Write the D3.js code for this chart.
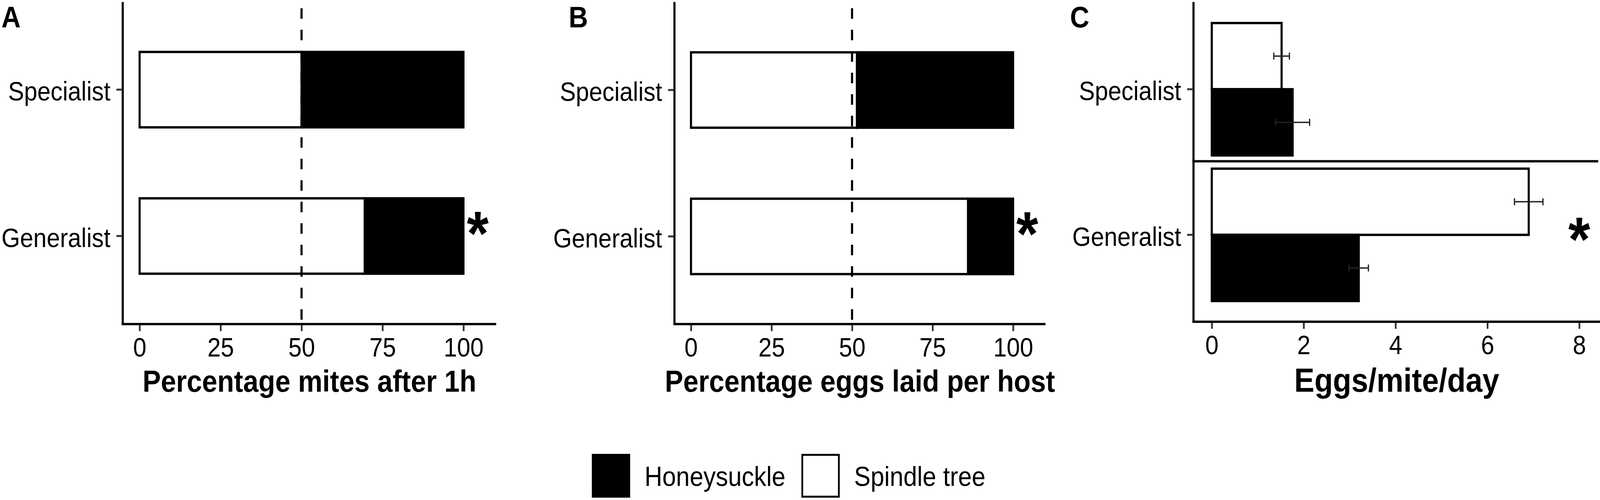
<!DOCTYPE html>
<html>
<head>
<meta charset="utf-8">
<script src="https://cdn.jsdelivr.net/npm/d3@7"></script>
<style>
  html, body { margin: 0; padding: 0; background: #fff; overflow: hidden; }
  #fig { display: block; width: 100vw; height: 100vh; }
  text { font-family: 'Liberation Sans', Arial, Helvetica, sans-serif; }
</style>
</head>
<body>
<svg id="fig" viewBox="0 0 4550 1279" preserveAspectRatio="none"></svg>
<script>
// data
var categories = ['Specialist', 'Generalist'];
var hosts = ['Spindle tree', 'Honeysuckle'];
var legendHosts = ['Honeysuckle', 'Spindle tree'];
var hostFill = {'Honeysuckle': '#000', 'Spindle tree': '#fff'};

// A: percentage mites after 1h
var mitesSpindle = [50, 69.5];
var mitesHoney = [50, 30.5];
// B: percentage eggs laid per host
var eggsSpindle = [51.5, 86];
var eggsHoney = [48.5, 14];
// C: eggs/mite/day (mean, se)
var dailySpindle = [1.52, 6.90];
var dailySpindleSE = [0.17, 0.31];
var dailyHoney = [1.76, 3.20];
var dailyHoneySE = [0.37, 0.21];

var pctTicks = [0, 25, 50, 75, 100];
var dayTicks = [0, 2, 4, 6, 8];
var significant = ['Generalist'];

var svg = d3.select('#fig');
var TICK_FS = 68, TITLE_FS = 78;

function styleAxis(g) {
  g.select('.domain').remove();
  g.selectAll('.tick line').attr('stroke', '#333').attr('stroke-width', 5);
  g.selectAll('.tick text').attr('fill', '#000')
    .style('font-size', TICK_FS + 'px')
    .style('font-family', "'Liberation Sans', Arial, sans-serif");
}

function drawFrame(p) {
  var g = svg.append('g');
  // y axis + x axis lines
  g.append('line').attr('x1', p.axisX).attr('x2', p.axisX)
    .attr('y1', 5).attr('y2', p.axisY + 3)
    .attr('stroke', '#000').attr('stroke-width', 6);
  g.append('line').attr('x1', p.axisX - 3).attr('x2', p.right)
    .attr('y1', p.axisY).attr('y2', p.axisY)
    .attr('stroke', '#000').attr('stroke-width', 6);

  var xa = g.append('g').attr('transform', 'translate(0,' + (p.axisY + 3) + ')')
    .call(d3.axisBottom(p.x).tickValues(p.ticks).tickSize(15).tickPadding(17));
  styleAxis(xa);

  var ya = g.append('g').attr('transform', 'translate(' + (p.axisX - 3) + ',0)')
    .call(d3.axisLeft(p.y).tickSize(15).tickPadding(17));
  styleAxis(ya);
  ya.selectAll('.tick text').attr('dy', '0.41em');

  g.append('text').attr('x', (p.axisX + p.right) / 2).attr('y', 1002)
    .attr('text-anchor', 'middle').attr('font-weight', 'bold')
    .style('font-size', p.titleSize + 'px').text(p.title);
  g.append('text').attr('x', p.labelX).attr('y', 70)
    .attr('font-weight', 'bold').style('font-size', '76px').text(p.label);
  return g;
}

function stackedPanel(p, spindle, honey) {
  var g = drawFrame(p);
  var rows = categories.map(function(c, i) {
    return {cat: c, spindle: spindle[i], honey: honey[i]};
  });
  var bars = g.selectAll('.row').data(rows).enter().append('g').attr('class', 'row');
  bars.append('rect')
    .attr('x', function(d) { return p.x(d.spindle); })
    .attr('y', function(d) { return p.y(d.cat); })
    .attr('width', function(d) { return p.x(d.spindle + d.honey) - p.x(d.spindle); })
    .attr('height', p.y.bandwidth())
    .attr('fill', hostFill['Honeysuckle']).attr('stroke', '#000').attr('stroke-width', 6);
  bars.append('rect')
    .attr('x', p.x(0))
    .attr('y', function(d) { return p.y(d.cat); })
    .attr('width', function(d) { return p.x(d.spindle) - p.x(0); })
    .attr('height', p.y.bandwidth())
    .attr('fill', hostFill['Spindle tree']).attr('stroke', '#000').attr('stroke-width', 6);

  // 50% reference line
  g.append('line').attr('x1', p.x(50)).attr('x2', p.x(50))
    .attr('y1', 21).attr('y2', p.axisY)
    .attr('stroke', '#000').attr('stroke-width', 6)
    .attr('stroke-dasharray', '27,28');

  g.selectAll('.star').data(significant).enter().append('text')
    .attr('x', p.x(104.4))
    .attr('y', function(d) { return p.y(d) + p.y.bandwidth() / 2 + 48; })
    .attr('text-anchor', 'middle').attr('font-weight', 'bold')
    .style('font-size', '160px').text('*');
}

// panel A
stackedPanel({
  axisX: 349, axisY: 829, right: 1411, labelX: 4, label: 'A',
  title: 'Percentage mites after 1h', titleSize: TITLE_FS, ticks: pctTicks,
  x: d3.scaleLinear().domain([0, 100]).range([397, 1318]),
  y: d3.scaleBand().domain(categories).range([20.5, 812.5]).paddingInner(0.485).paddingOuter(0.3)
}, mitesSpindle, mitesHoney);

// panel B
stackedPanel({
  axisX: 1918, axisY: 829, right: 2973, labelX: 1617, label: 'B',
  title: 'Percentage eggs laid per host', titleSize: TITLE_FS, ticks: pctTicks,
  x: d3.scaleLinear().domain([0, 100]).range([1965, 2881]),
  y: d3.scaleBand().domain(categories).range([21.5, 813.5]).paddingInner(0.485).paddingOuter(0.3)
}, eggsSpindle, eggsHoney);

// panel C
(function() {
  var p = {
    axisX: 3394, axisY: 823, right: 4550, labelX: 3043, label: 'C',
    title: 'Eggs/mite/day', titleSize: 86, ticks: dayTicks,
    x: d3.scaleLinear().domain([0, 8]).range([3446, 4491]),
    y: d3.scaleBand().domain(categories).range([21.7, 807.3]).paddingInner(0.091).paddingOuter(0.1)
  };
  var g = drawFrame(p);
  var inner = d3.scaleBand().domain(hosts).range([0, p.y.bandwidth()]);

  // facet separator
  var sep = (p.y('Specialist') + p.y.bandwidth() + p.y('Generalist')) / 2 - 2;
  g.append('line').attr('x1', p.axisX - 3).attr('x2', 4545)
    .attr('y1', sep).attr('y2', sep)
    .attr('stroke', '#000').attr('stroke-width', 6);

  var rows = [];
  categories.forEach(function(c, i) {
    rows.push({cat: c, host: 'Spindle tree', mean: dailySpindle[i], se: dailySpindleSE[i]});
    rows.push({cat: c, host: 'Honeysuckle', mean: dailyHoney[i], se: dailyHoneySE[i]});
  });
  function cy(d) { return p.y(d.cat) + inner(d.host); }

  g.selectAll('.bar').data(rows).enter().append('rect')
    .attr('class', 'bar')
    .attr('x', p.x(0))
    .attr('y', cy)
    .attr('width', function(d) { return p.x(d.mean) - p.x(0); })
    .attr('height', inner.bandwidth())
    .attr('fill', function(d) { return hostFill[d.host]; })
    .attr('stroke', '#000').attr('stroke-width', 6);

  var err = g.selectAll('.err').data(rows).enter().append('g').attr('class', 'err')
    .attr('stroke', '#222').attr('stroke-width', 3.5);
  err.append('line')
    .attr('x1', function(d) { return p.x(d.mean - d.se); })
    .attr('x2', function(d) { return p.x(d.mean + d.se); })
    .attr('y1', function(d) { return cy(d) + inner.bandwidth() / 2; })
    .attr('y2', function(d) { return cy(d) + inner.bandwidth() / 2; });
  [-1, 1].forEach(function(s) {
    err.append('line')
      .attr('x1', function(d) { return p.x(d.mean + s * d.se); })
      .attr('x2', function(d) { return p.x(d.mean + s * d.se); })
      .attr('y1', function(d) { return cy(d) + inner.bandwidth() / 2 - 9; })
      .attr('y2', function(d) { return cy(d) + inner.bandwidth() / 2 + 9; });
  });

  g.selectAll('.star').data(significant).enter().append('text')
    .attr('x', p.x(8))
    .attr('y', function(d) { return p.y(d) + p.y.bandwidth() / 2 + 66; })
    .attr('text-anchor', 'middle').attr('font-weight', 'bold')
    .style('font-size', '160px').text('*');
})();

// legend
var leg = svg.append('g').selectAll('g').data(legendHosts).enter().append('g')
  .attr('transform', function(d, i) { return 'translate(' + [1683, 2279][i] + ',1161)'; });
leg.append('rect').attr('x', 2.5).attr('y', 2.5).attr('width', 104).attr('height', 107)
  .attr('fill', function(d) { return hostFill[d]; })
  .attr('stroke', '#000').attr('stroke-width', 5);
leg.append('text').attr('x', 150).attr('y', 82)
  .style('font-size', '70px').text(function(d) { return d; });
</script>
</body>
</html>
